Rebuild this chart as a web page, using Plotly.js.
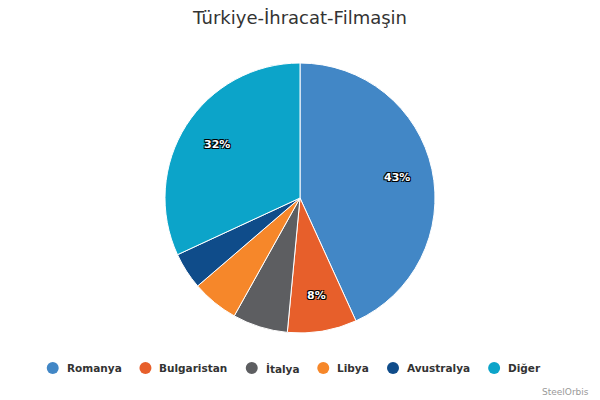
<!DOCTYPE html>
<html>
<head>
<meta charset="utf-8">
<script src="https://cdn.plot.ly/plotly-3.0.1.min.js"></script>
<style>html,body{margin:0;padding:0;background:#fff}#chart{width:600px;height:400px}</style>
</head>
<body>
<div id="chart"></div>
<script>
const categories = ["Romanya", "Bulgaristan", "İtalya", "Libya", "Avustralya", "Diğer"];
const shares = [43.2, 8.3, 6.6, 5.6, 4.4, 31.9];
const colors = ["#4287C6", "#E75F2B", "#5D5E61", "#F6872A", "#0F4C8A", "#0CA4C9"];
const labelMin = 7; // slices smaller than this get no label

const font = "DejaVu Sans, Lucida Grande, sans-serif";
const W = 600, H = 400;
const dom = {x: [0.275, 0.725], y: [0.1675, 0.8425]};

const pie = {
  type: "pie",
  labels: categories,
  values: shares,
  sort: false,
  direction: "clockwise",
  rotation: 0,
  marker: {colors: colors, line: {color: "#ffffff", width: 1}},
  textinfo: "none",
  hoverinfo: "label+percent",
  showlegend: false,
  domain: dom
};

// percentage labels placed along each slice's mid-angle, like the original
const total = shares.reduce((a, b) => a + b, 0);
const cx = (dom.x[0] + dom.x[1]) / 2 * W;
const cy = (1 - (dom.y[0] + dom.y[1]) / 2) * H;
const R = (dom.y[1] - dom.y[0]) / 2 * H;
const labelR = R - 36;
let acc = 0;
const annotations = [];
shares.forEach(v => {
  const mid = (acc + v / 2) / total * 2 * Math.PI;
  acc += v;
  if (v < labelMin) return;
  const px = cx + labelR * Math.sin(mid);
  const py = cy - labelR * Math.cos(mid);
  annotations.push({
    text: Math.round(v / total * 100) + "%",
    xref: "paper", yref: "paper",
    x: px / W, y: 1 - py / H,
    xanchor: "center", yanchor: "middle",
    showarrow: false,
    font: {
      family: font, size: 11, color: "#ffffff", weight: "bold",
      shadow: "1px 1px 0 #000, -1px -1px 0 #000, 1px -1px 0 #000, -1px 1px 0 #000"
    }
  });
});

// legend with round symbols, laid out from measured text widths
const legFontSize = 10.5;
const ctx = document.createElement("canvas").getContext("2d");
ctx.font = "bold " + legFontSize + "px 'DejaVu Sans'";
const symR = 6, symToText = 13, itemGap = 25, legCenter = 293;
const widths = categories.map(c => ctx.measureText(c).width);
const totalW = symR + widths.reduce((a, w) => a + symToText + w, 0) + itemGap * (categories.length - 1);
let sx = legCenter - totalW / 2 + symR;
const legY = 368;
const shapes = [];
categories.forEach((c, i) => {
  shapes.push({
    type: "circle", xref: "paper", yref: "paper",
    x0: (sx - symR) / W, x1: (sx + symR) / W,
    y0: 1 - (legY + symR) / H, y1: 1 - (legY - symR) / H,
    fillcolor: colors[i], line: {width: 0}
  });
  annotations.push({
    text: c,
    xref: "paper", yref: "paper",
    x: (sx + symToText - 1) / W, y: 1 - legY / H,
    xanchor: "left", yanchor: "middle",
    showarrow: false,
    font: {family: font, size: legFontSize, color: "#333333", weight: "bold"}
  });
  sx = sx + symToText + widths[i] + itemGap;
});

annotations.push({
  text: "SteelOrbis",
  xref: "paper", yref: "paper",
  x: 0.985, y: 0.02, xanchor: "right", yanchor: "middle",
  showarrow: false,
  font: {family: font, size: 9, color: "#999999"}
});

const layout = {
  width: W, height: H,
  margin: {l: 0, r: 0, t: 0, b: 0},
  paper_bgcolor: "#ffffff",
  plot_bgcolor: "#ffffff",
  showlegend: false,
  title: {
    text: "Türkiye-İhracat-Filmaşin",
    font: {family: font, size: 18, color: "#333333"},
    x: 0.5, xanchor: "center", y: 0.955, yanchor: "middle"
  },
  annotations: annotations,
  shapes: shapes
};

Plotly.newPlot("chart", [pie], layout, {displayModeBar: false, staticPlot: true});
</script>
</body>
</html>
